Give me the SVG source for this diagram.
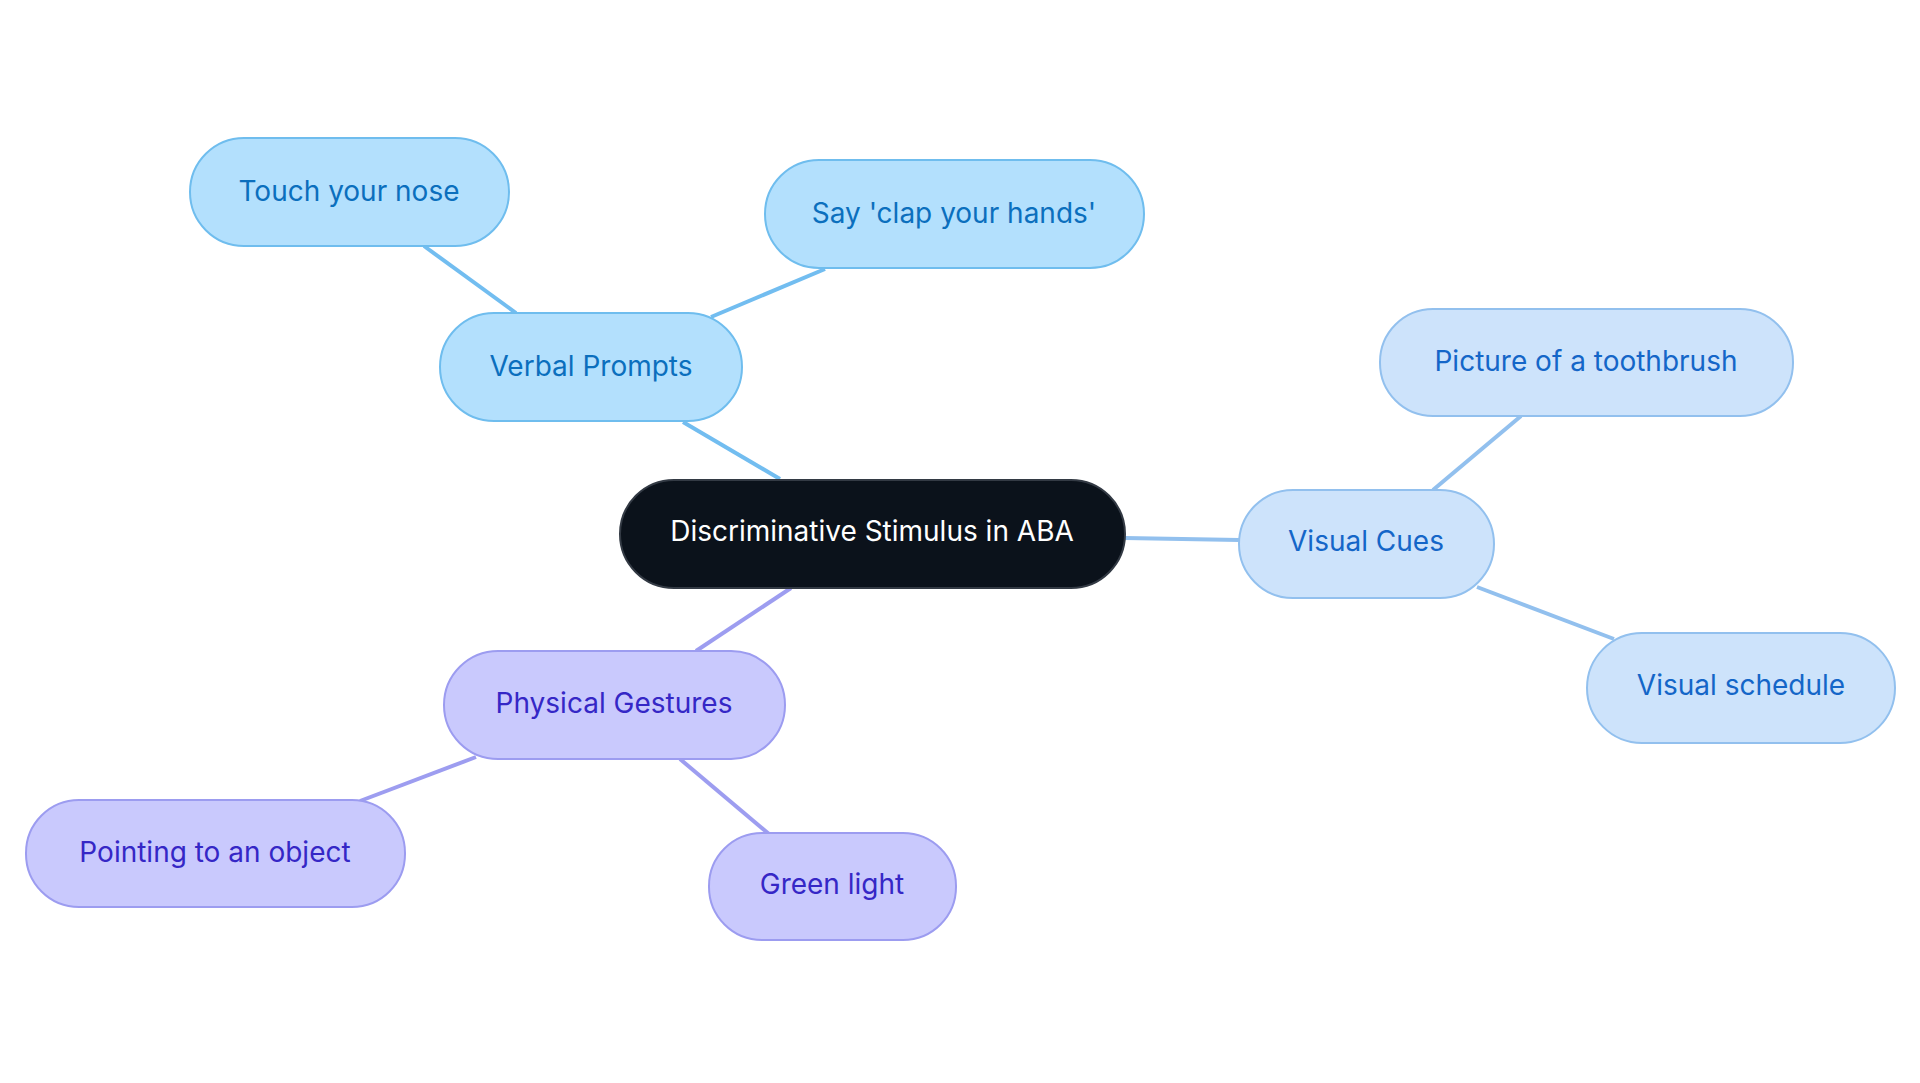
<svg xmlns="http://www.w3.org/2000/svg" width="1920" height="1083" viewBox="0 0 1920 1083">
<style>
text{font-family:Inter,"Noto Sans",sans-serif;font-size:28px;text-anchor:middle;dominant-baseline:central}
.v rect{fill:#b3e0fd;stroke:#6fbdee;stroke-width:2}.v text{fill:#0b6fbd}
.c rect{fill:#cde3fb;stroke:#92c0ee;stroke-width:2}.c text{fill:#1466c8}
.p rect{fill:#c9c9fd;stroke:#9c9cf0;stroke-width:2}.p text{fill:#3527c6}
#links line{stroke-width:4;fill:none}
.lv{stroke:#72bdf0}.lc{stroke:#92c0ee}.lp{stroke:#9d9df0}
</style>
<rect width="1920" height="1083" fill="#fff"/>
<g id="links">
<line class="lv" x1="780" y1="479" x2="683" y2="422"/>
<line class="lv" x1="516" y1="313" x2="424" y2="246"/>
<line class="lv" x1="711" y1="317" x2="825" y2="269"/>
<line class="lc" x1="1125" y1="538" x2="1239" y2="540"/>
<line class="lc" x1="1433" y1="490" x2="1521" y2="416"/>
<line class="lc" x1="1477" y1="587" x2="1614" y2="639"/>
<line class="lp" x1="791" y1="588" x2="696" y2="651"/>
<line class="lp" x1="476" y1="757" x2="360" y2="801"/>
<line class="lp" x1="680" y1="759" x2="769" y2="834"/>
</g>
<g id="root"><rect x="620" y="480" width="505" height="108" rx="54" fill="#0b121b" stroke="#333a44" stroke-width="2"/><text x="872" y="531" fill="#fff">Discriminative Stimulus in ABA</text></g>
<g id="verbal" class="v"><rect x="440" y="313" width="302" height="108" rx="54"/><text x="591" y="366">Verbal Prompts</text></g>
<g id="touch" class="v"><rect x="190" y="138" width="319" height="108" rx="54"/><text x="349" y="191">Touch your nose</text></g>
<g id="say" class="v"><rect x="765" y="160" width="379" height="108" rx="54"/><text x="954" y="213">Say 'clap your hands'</text></g>
<g id="visual" class="c"><rect x="1239" y="490" width="255" height="108" rx="54"/><text x="1366" y="541">Visual Cues</text></g>
<g id="picture" class="c"><rect x="1380" y="309" width="413" height="107" rx="53"/><text x="1586" y="361">Picture of a toothbrush</text></g>
<g id="schedule" class="c"><rect x="1587" y="633" width="308" height="110" rx="55"/><text x="1741" y="685">Visual schedule</text></g>
<g id="physical" class="p"><rect x="444" y="651" width="341" height="108" rx="54"/><text x="614" y="703">Physical Gestures</text></g>
<g id="pointing" class="p"><rect x="26" y="800" width="379" height="107" rx="53"/><text x="215" y="852">Pointing to an object</text></g>
<g id="green" class="p"><rect x="709" y="833" width="247" height="107" rx="53"/><text x="832" y="884">Green light</text></g>
</svg>
